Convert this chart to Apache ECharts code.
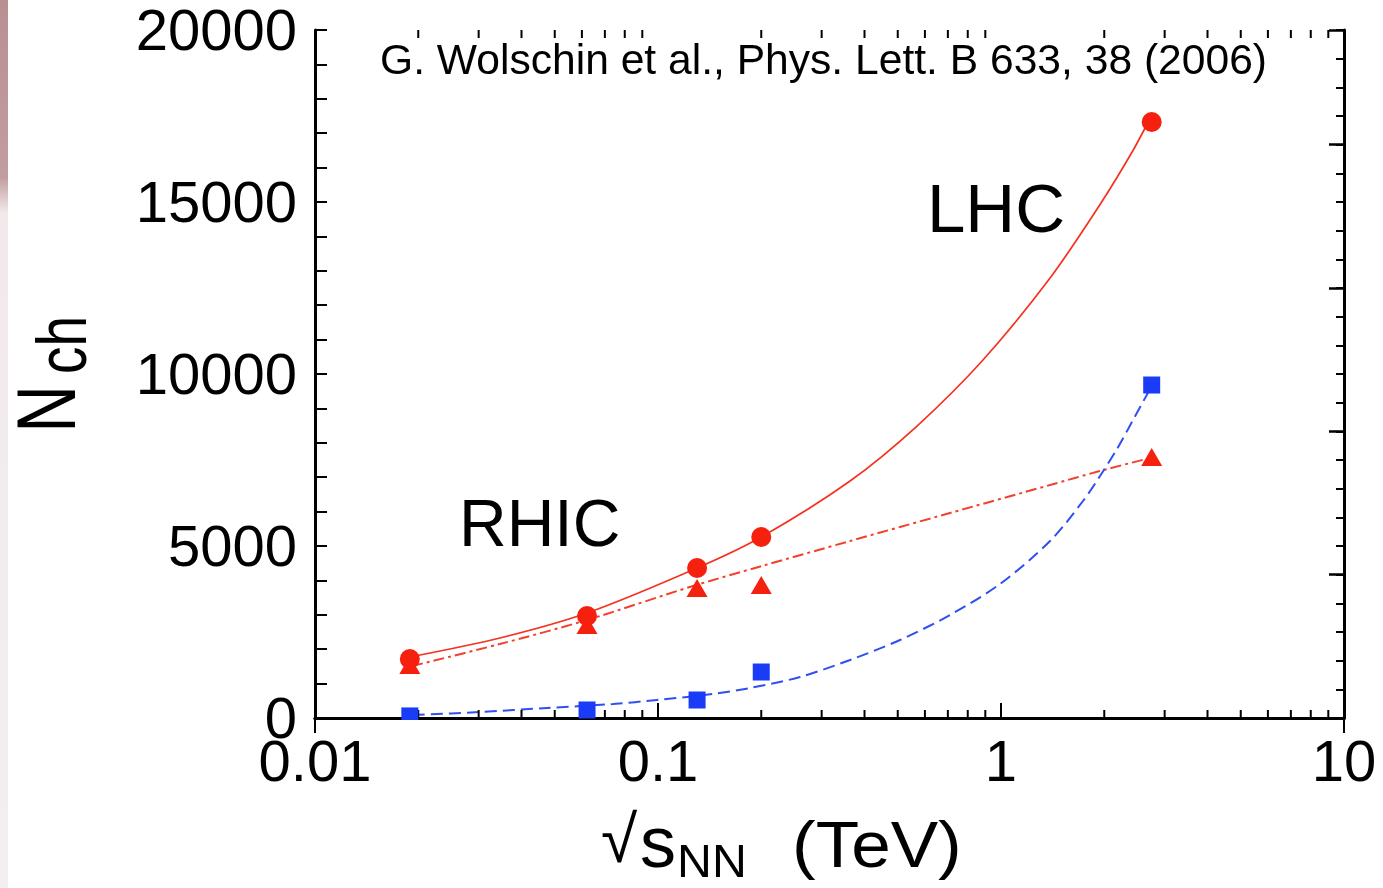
<!DOCTYPE html>
<html>
<head>
<meta charset="utf-8">
<script src="https://cdn.jsdelivr.net/npm/echarts@6/dist/echarts.min.js"></script>
<style>
html,body{margin:0;padding:0;background:#fff;}
#chart{width:1383px;height:888px;}
</style>
</head>
<body>
<div id="chart"></div>
<script>
// ---- data ----
const energies = [0.0189, 0.0621, 0.130, 0.200, 2.75];        // sqrt(sNN) in TeV
const nchCircle = [1715, 2965, 4360, 5262, 17326];
const nchTriangle = [1541, 2703, 3779, 3866, 7587];
const nchSquare = [60, 233, 523, 1337, 9680];

const solidX = [0.0189, 0.0346, 0.0621, 0.130, 0.200, 0.363, 0.569, 0.886, 1.39, 1.94, 2.43, 2.75];
const solidY = [1773, 2326, 3052, 4360, 5262, 6890, 8488, 10407, 12791, 14913, 16512, 17529];

const dashDotX = [0.0192, 0.0346, 0.0621, 0.1265, 0.2009, 0.363, 0.710, 1.39, 1.94, 2.72];
const dashDotY = [1512, 2151, 2849, 3837, 4419, 5145, 5959, 6773, 7180, 7558];

const dashedX = [0.0193, 0.0303, 0.0475, 0.0739, 0.0993, 0.1446, 0.1855, 0.2594, 0.363, 0.5075, 0.710, 0.993, 1.39, 1.734, 1.944, 2.179, 2.426, 2.72];
const dashedY = [87, 174, 291, 407, 523, 698, 872, 1192, 1686, 2267, 2994, 3895, 5145, 6308, 7035, 7820, 8663, 9564];

const xTickLabels = ['0.01', '0.1', '1', '10'];
const yTickValues = [0, 5000, 10000, 15000, 20000];
const yTickLabels = ['0', '5000', '10000', '15000', '20000'];
const xMinorTicks = [0.02,0.03,0.04,0.05,0.06,0.07,0.08,0.09,0.2,0.3,0.4,0.5,0.6,0.7,0.8,0.9,2,3,4,5,6,7,8,9];

const zip = (a, b) => a.map((v, i) => [v, b[i]]);
const FONT = 'Liberation Sans, Arial, Helvetica, sans-serif';
const RED = '#f5200e', BLUE = '#1a3cf7';

const chart = echarts.init(document.getElementById('chart'), null, {renderer: 'canvas'});

const option = {
  backgroundColor: '#ffffff',
  animation: false,
  grid: {left: 315, right: 39, top: 30, bottom: 170, containLabel: false},
  xAxis: [
    {
      type: 'log', min: 0.01, max: 10, logBase: 10, position: 'bottom',
      axisLine: {show: true, lineStyle: {color: '#000', width: 3}},
      axisTick: {show: true, inside: true, length: 15, lineStyle: {color: '#000', width: 2}},
      axisLabel: {
        show: true, margin: 18, color: '#000', fontSize: 58, fontFamily: FONT,
        formatter: v => xTickLabels[Math.round(Math.log10(v)) + 2]
      },
      splitLine: {show: false}
    },
    {
      type: 'log', min: 0.01, max: 10, logBase: 10, position: 'top',
      axisLine: {show: true, lineStyle: {color: '#000', width: 3}},
      axisTick: {show: true, inside: true, length: 15, lineStyle: {color: '#000', width: 2}},
      axisLabel: {show: false},
      splitLine: {show: false}
    }
  ],
  yAxis: [
    {
      type: 'value', min: 0, max: 20000, interval: 5000, position: 'left',
      axisLine: {show: true, lineStyle: {color: '#000', width: 3}},
      axisTick: {show: true, inside: true, length: 12, lineStyle: {color: '#000', width: 2}},
      minorTick: {show: true, splitNumber: 5, length: 12, lineStyle: {color: '#000', width: 2}},
      axisLabel: {show: false},
      splitLine: {show: false}
    },
    {
      type: 'value', min: 0, max: 4.8, interval: 0.2, position: 'right',
      axisLine: {show: true, lineStyle: {color: '#000', width: 3}},
      axisTick: {show: true, inside: true, length: 8, lineStyle: {color: '#000', width: 2}},
      axisLabel: {show: false}, splitLine: {show: false}
    },
    {
      type: 'value', min: 0, max: 4.8, interval: 1, position: 'right',
      axisLine: {show: false},
      axisTick: {show: true, inside: true, length: 15, lineStyle: {color: '#000', width: 2.5}},
      axisLabel: {show: false}, splitLine: {show: false}
    }
  ],
  series: [
    {
      type: 'custom', name: 'minorTicksX', xAxisIndex: 0, yAxisIndex: 0, silent: true, clip: false, z: 3,
      data: xMinorTicks.map(v => [v, 0]),
      renderItem: function (params, api) {
        const v = api.value(0);
        const b = api.coord([v, 0]);
        const t = api.coord([v, 20000]);
        const st = {stroke: '#000', lineWidth: 2};
        return {type: 'group', children: [
          {type: 'line', shape: {x1: b[0], y1: b[1], x2: b[0], y2: b[1] - 8}, style: st},
          {type: 'line', shape: {x1: t[0], y1: t[1], x2: t[0], y2: t[1] + 8}, style: st}
        ]};
      }
    },
    {
      // y tick labels, placed through the axis scale (slightly below the tick as in the reference)
      type: 'custom', name: 'yLabels', xAxisIndex: 0, yAxisIndex: 0, silent: true, clip: false, z: 3,
      data: yTickValues.map((v, i) => [0.01, v, i]),
      renderItem: function (params, api) {
        const p = api.coord([api.value(0), api.value(1)]);
        return {type: 'text', x: p[0] - 18, y: p[1] + 4,
          style: {text: yTickLabels[api.value(2)], fontSize: 58, fontFamily: FONT, fill: '#000', align: 'right', verticalAlign: 'middle'}};
      }
    },
    {
      type: 'line', name: 'fit circles', data: zip(solidX, solidY), showSymbol: false, smooth: 0.3,
      lineStyle: {color: '#f5321f', width: 1.7, type: 'solid'}, z: 2
    },
    {
      type: 'line', name: 'fit triangles', data: zip(dashDotX, dashDotY), showSymbol: false, smooth: 0.3,
      lineStyle: {color: '#f2402c', width: 2, type: [11, 4, 3, 4]}, z: 2
    },
    {
      type: 'line', name: 'fit squares', data: zip(dashedX, dashedY), showSymbol: false, smooth: 0.3,
      lineStyle: {color: '#2f4ff0', width: 2, type: [12, 6]}, z: 2
    },
    {
      type: 'scatter', name: 'circles', data: zip(energies, nchCircle), symbol: 'circle', symbolSize: 20,
      itemStyle: {color: RED, opacity: 1}, z: 4
    },
    {
      type: 'scatter', name: 'triangles', data: zip(energies, nchTriangle), symbol: 'triangle', symbolSize: [21, 18],
      itemStyle: {color: RED, opacity: 1}, z: 4
    },
    {
      type: 'scatter', name: 'squares', data: zip(energies, nchSquare), symbol: 'rect', symbolSize: 17,
      itemStyle: {color: BLUE, opacity: 1}, z: 4
    }
  ],
  graphic: [
    // textured pinkish strip at the left edge
    {type: 'rect', left: 0, top: 0, z: 0, shape: {x: 0, y: 0, width: 8, height: 888},
     style: {fill: new echarts.graphic.LinearGradient(0, 0, 0, 1, [
       {offset: 0, color: '#b98f92'}, {offset: 0.2, color: '#c29da0'}, {offset: 0.24, color: '#f2eaea'}, {offset: 1, color: '#f4eeee'}
     ])}},
    // white mask below the bottom axis (symbols are clipped there in the reference)
    {type: 'rect', z: 100, shape: {x: 318, y: 720, width: 1024, height: 18}, style: {fill: '#fff'}},
    {type: 'text', z: 101, x: 380, y: 62, style: {text: 'G. Wolschin et al., Phys. Lett. B 633, 38 (2006)', fontSize: 42.6, fontFamily: FONT, fill: '#000', align: 'left', verticalAlign: 'middle'}},
    {type: 'text', z: 101, x: 927, y: 213, style: {text: 'LHC', fontSize: 69, fontFamily: FONT, fill: '#000', align: 'left', verticalAlign: 'middle'}},
    {type: 'text', z: 101, x: 459, y: 528, style: {text: 'RHIC', fontSize: 66, fontFamily: FONT, fill: '#000', align: 'left', verticalAlign: 'middle'}},
    // y axis title  N_ch
    {type: 'text', z: 101, x: 52, y: 409, rotation: Math.PI / 2, scaleY: 1.27, style: {text: 'N', fontSize: 66, fontFamily: FONT, fill: '#000', align: 'center', verticalAlign: 'middle'}},
    {type: 'text', z: 101, x: 67, y: 345, rotation: Math.PI / 2, scaleY: 1.27, style: {text: 'ch', fontSize: 55, fontFamily: FONT, fill: '#000', align: 'center', verticalAlign: 'middle'}},
    // x axis title  sqrt(s_NN) (TeV)
    {type: 'text', z: 101, x: 601, y: 844, style: {text: '√', fontSize: 66, fontFamily: FONT, fill: '#000', align: 'left', verticalAlign: 'middle'}},
    {type: 'text', z: 101, x: 640, y: 847, style: {text: 's', fontSize: 72, fontFamily: FONT, fill: '#000', align: 'left', verticalAlign: 'middle'}},
    {type: 'text', z: 101, x: 677, y: 864, scaleX: 1.05, style: {text: 'NN', fontSize: 46, fontFamily: FONT, fill: '#000', align: 'left', verticalAlign: 'middle'}},
    {type: 'text', z: 101, x: 792, y: 849, scaleX: 1.11, style: {text: '(TeV)', fontSize: 64, fontFamily: FONT, fill: '#000', align: 'left', verticalAlign: 'middle'}}
  ]
};
chart.setOption(option);
</script>
</body>
</html>
